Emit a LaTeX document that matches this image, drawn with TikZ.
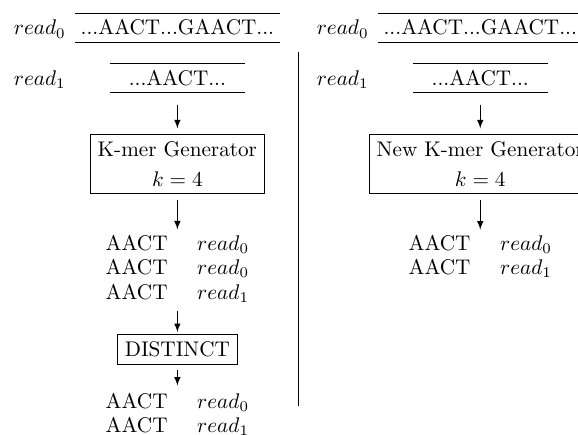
\documentclass[tikz,border=0pt]{standalone}
\usetikzlibrary{arrows}
\renewcommand{\arraystretch}{0.96}

\tikzset{
    seq/.style={inner xsep=2.5pt, text height=6.83pt, text depth=0pt},
    readlbl/.style={anchor=base},
    stage/.style={draw, align=center},
    kmers/.style={inner sep=0pt},
    flow/.style={->, >=latex, shorten <=2.8pt, shorten >=1.5pt}
}

\begin{document}
\begin{tikzpicture}

    \clip (0,0) rectangle (9.58,-7.20);

    % left: reads
    \node [seq, anchor=base] (seq0) at (2.94,-0.58) {...AACT...GAACT...};
    \node [readlbl] (lbl0) at (0.66,-0.58) {$read_0$};
    \node [seq, anchor=base, minimum width=2.22cm] (seq1) at (2.94,-1.41) {...AACT...};
    \node [readlbl] (lbl1) at (0.66,-1.41) {$read_1$};
    \draw (seq0.north west) -- (seq0.north east) (seq0.south west) -- (seq0.south east);
    \draw (seq1.north west) -- (seq1.north east) (seq1.south west) -- (seq1.south east);

    % left: generator
    \node [stage] (gen) at (2.94,-2.72) {K-mer Generator\\[2pt] $k=4$};
    \node [kmers] (list) at (2.94,-4.47) {\begin{tabular}{@{}l@{\hspace{14pt}}l@{}}
        AACT & $read_0$\\ AACT & $read_0$\\ AACT & $read_1$ \end{tabular}};

    % left: distinct
    \node [stage] (dist) at (2.94,-5.79) {DISTINCT};
    \node [kmers] (distlist) at (2.94,-6.89) {\begin{tabular}{@{}l@{\hspace{14pt}}l@{}}
        AACT & $read_0$\\ AACT & $read_1$ \end{tabular}};

    %% arrows
    \draw [flow, shorten <=5.7pt, shorten >=2.8pt] (seq1) -- (gen);
    \draw [flow] (gen) -- (list);
    \draw [flow, shorten <=2pt, shorten >=1pt] (list) -- (dist);
    \draw [flow, shorten >=2.5pt] (dist) -- (distlist);

    % separator
    \draw (4.95,-0.87) -- (4.95,-6.73);

    % right: reads
    \node [seq, anchor=base] (nseq0) at (7.96,-0.58) {...AACT...GAACT...};
    \node [readlbl] (nlbl0) at (5.68,-0.58) {$read_0$};
    \node [seq, anchor=base, minimum width=2.22cm] (nseq1) at (7.96,-1.41) {...AACT...};
    \node [readlbl] (nlbl1) at (5.68,-1.41) {$read_1$};
    \draw (nseq0.north west) -- (nseq0.north east) (nseq0.south west) -- (nseq0.south east);
    \draw (nseq1.north west) -- (nseq1.north east) (nseq1.south west) -- (nseq1.south east);

    % right: new generator
    \node [stage] (ngen) at (7.96,-2.72) {New K-mer Generator\\[2pt] $k=4$};
    \node [kmers] (nlist) at (7.96,-4.27) {\begin{tabular}{@{}l@{\hspace{14pt}}l@{}}
        AACT & $read_0$\\ AACT & $read_1$ \end{tabular}};

    %% arrows
    \draw [flow, shorten <=5.7pt, shorten >=2.8pt] (nseq1) -- (ngen);
    \draw [flow] (ngen) -- (nlist);

\end{tikzpicture}
\end{document}
